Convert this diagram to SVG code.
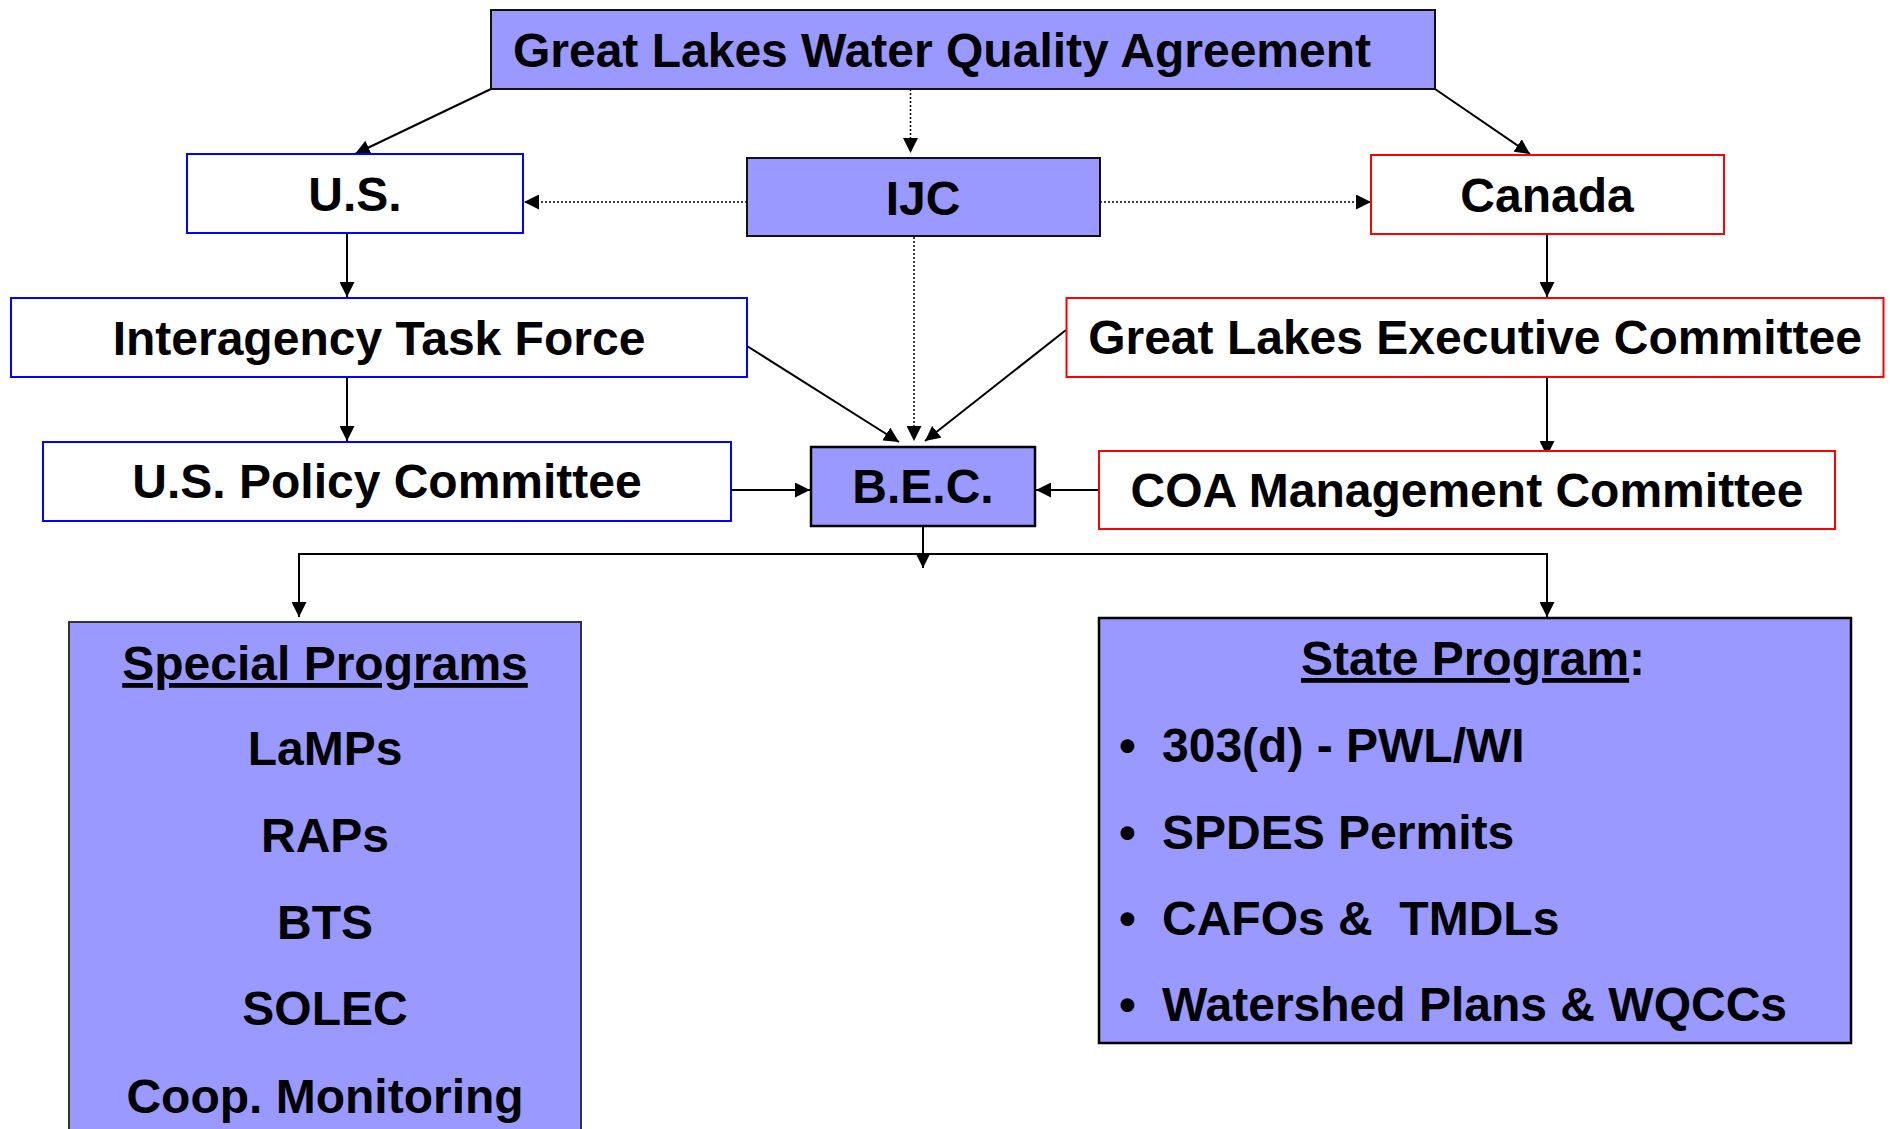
<svg xmlns="http://www.w3.org/2000/svg" width="1890" height="1129" viewBox="0 0 1890 1129">
<style>
.t{font-family:"Liberation Sans",Arial,Helvetica,sans-serif;font-weight:bold;font-size:48px;fill:#000}
.c{text-anchor:middle}
.fill{fill:#9999FF;stroke:#111;stroke-width:2}
.blue{fill:#fff;stroke:#0000FF;stroke-width:2}
.red{fill:#fff;stroke:#FF0000;stroke-width:2}
.ln{fill:none;stroke:#000;stroke-width:2}
.dot{fill:none;stroke:#000;stroke-width:1.5;stroke-dasharray:2 2}
</style>
<defs>
<marker id="ah" markerUnits="userSpaceOnUse" markerWidth="15" markerHeight="15" refX="15" refY="7.5" orient="auto">
<path d="M0,0 L15,7.5 L0,15 z" fill="#000" stroke="none"/>
</marker>
</defs>
<rect width="1890" height="1129" fill="#fff"/>
<g id="connectors">
<line class="ln" x1="491" y1="89" x2="355" y2="154" marker-end="url(#ah)"/>
<line class="dot" x1="910.5" y1="89" x2="910.5" y2="153" marker-end="url(#ah)"/>
<line class="ln" x1="1435" y1="89" x2="1530" y2="154" marker-end="url(#ah)"/>
<line class="dot" x1="747" y1="202" x2="524" y2="202" marker-end="url(#ah)"/>
<line class="dot" x1="1100" y1="202" x2="1371" y2="202" marker-end="url(#ah)"/>
<line class="ln" x1="347" y1="233" x2="347" y2="297" marker-end="url(#ah)"/>
<line class="ln" x1="347" y1="377" x2="347" y2="441" marker-end="url(#ah)"/>
<line class="ln" x1="1547" y1="234" x2="1547" y2="297" marker-end="url(#ah)"/>
<line class="ln" x1="1547" y1="377" x2="1547" y2="456" marker-end="url(#ah)"/>
<line class="ln" x1="747" y1="346" x2="899" y2="442" marker-end="url(#ah)"/>
<line class="dot" x1="914" y1="237" x2="914" y2="441" marker-end="url(#ah)"/>
<line class="ln" x1="1066" y1="330" x2="925" y2="441" marker-end="url(#ah)"/>
<line class="ln" x1="731" y1="490" x2="810" y2="490" marker-end="url(#ah)"/>
<line class="ln" x1="1099" y1="490" x2="1036" y2="490" marker-end="url(#ah)"/>
<line class="ln" x1="923" y1="526" x2="923" y2="568" marker-end="url(#ah)"/>
<path class="ln" d="M923,554 H299 V617" marker-end="url(#ah)"/>
<path class="ln" d="M923,554 H1547 V617" marker-end="url(#ah)"/>
</g>
<g id="glwqa">
<rect class="fill" x="491" y="10" width="944" height="79"/>
<text class="t c" x="942" y="67">Great Lakes Water Quality Agreement</text>
</g>
<g id="us">
<rect class="blue" x="187" y="154" width="336" height="79"/>
<text class="t c" x="355" y="211">U.S.</text>
</g>
<g id="ijc">
<rect class="fill" x="747" y="158" width="353" height="78"/>
<text class="t c" x="923" y="215">IJC</text>
</g>
<g id="canada">
<rect class="red" x="1371" y="155" width="353" height="79"/>
<text class="t c" x="1547" y="212">Canada</text>
</g>
<g id="itf">
<rect class="blue" x="11" y="298" width="736" height="79"/>
<text class="t c" x="379" y="355">Interagency Task Force</text>
</g>
<g id="glec">
<rect class="red" x="1066.5" y="298" width="817" height="79"/>
<text class="t c" x="1475" y="354">Great Lakes Executive Committee</text>
</g>
<g id="uspc">
<rect class="blue" x="43" y="442" width="688" height="79"/>
<text class="t c" x="387" y="498">U.S. Policy Committee</text>
</g>
<g id="bec">
<rect class="fill" x="811" y="447" width="224" height="79" style="stroke:#000;stroke-width:2.5"/>
<text class="t c" x="923" y="503">B.E.C.</text>
</g>
<g id="coa">
<rect class="red" x="1099" y="451" width="736" height="78"/>
<text class="t c" x="1467" y="507">COA Management Committee</text>
</g>
<g id="special">
<rect class="fill" x="69" y="622" width="512" height="530" style="stroke:#333"/>
<text class="t c" x="325" y="680"><tspan text-decoration="underline">Special Programs</tspan></text>
<text class="t c" x="325" y="765">LaMPs</text>
<text class="t c" x="325" y="852">RAPs</text>
<text class="t c" x="325" y="939">BTS</text>
<text class="t c" x="325" y="1025">SOLEC</text>
<text class="t c" x="325" y="1113">Coop. Monitoring</text>
</g>
<g id="state">
<rect class="fill" x="1099" y="618" width="752" height="425" style="stroke:#000;stroke-width:2.5"/>
<text class="t c" x="1473" y="675"><tspan text-decoration="underline">State Program</tspan>:</text>
<text class="t" x="1119" y="762">•</text>
<text class="t" x="1162" y="762">303(d) - PWL/WI</text>
<text class="t" x="1119" y="849">•</text>
<text class="t" x="1162" y="849">SPDES Permits</text>
<text class="t" x="1119" y="935">•</text>
<text class="t" x="1162" y="935" xml:space="preserve" style="white-space:pre">CAFOs &amp;  TMDLs</text>
<text class="t" x="1119" y="1021">•</text>
<text class="t" x="1162" y="1021">Watershed Plans &amp; WQCCs</text>
</g>
</svg>
